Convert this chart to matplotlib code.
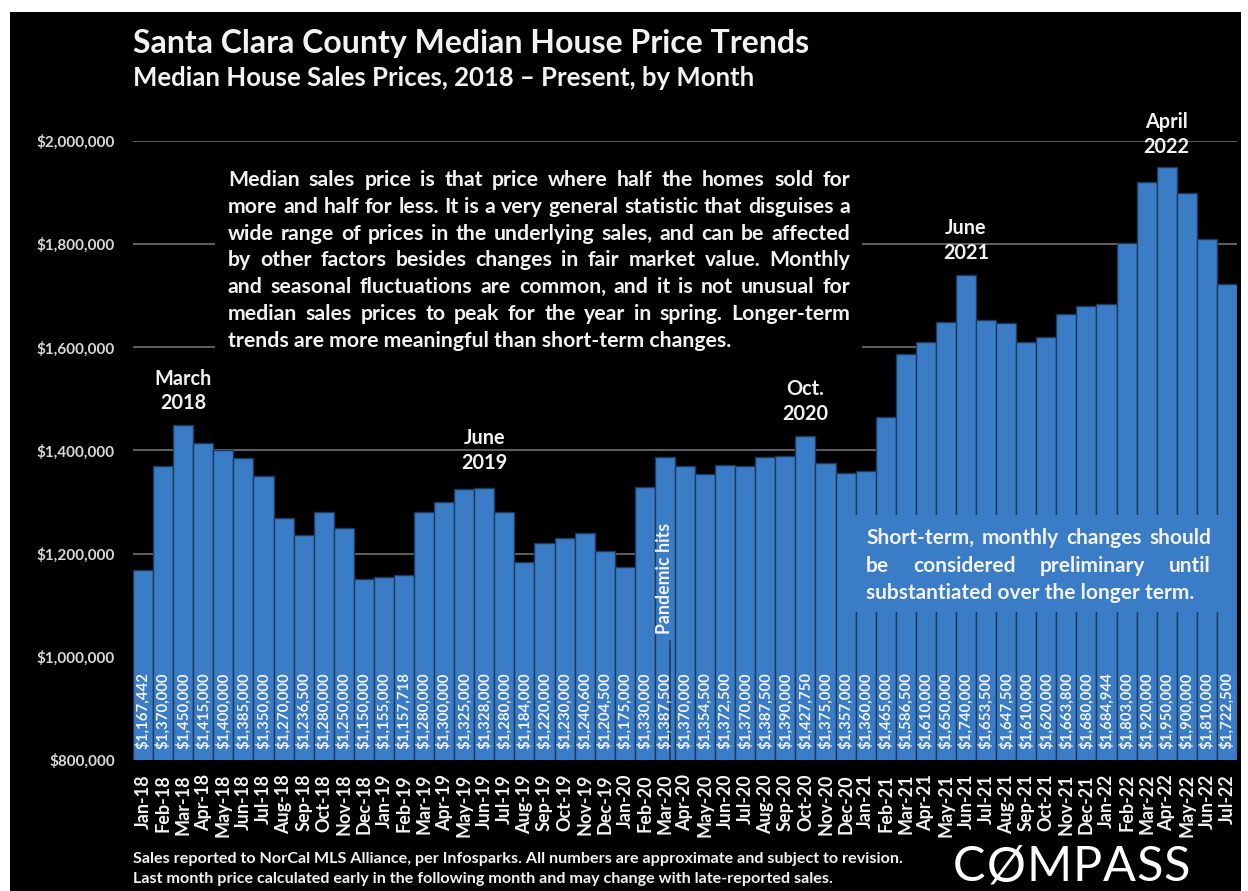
import matplotlib
matplotlib.use("Agg")
import matplotlib.pyplot as plt
from matplotlib.patches import Rectangle
import numpy as np

months = ["Jan-18","Feb-18","Mar-18","Apr-18","May-18","Jun-18","Jul-18","Aug-18","Sep-18","Oct-18","Nov-18","Dec-18",
          "Jan-19","Feb-19","Mar-19","Apr-19","May-19","Jun-19","Jul-19","Aug-19","Sep-19","Oct-19","Nov-19","Dec-19",
          "Jan-20","Feb-20","Mar-20","Apr-20","May-20","Jun-20","Jul-20","Aug-20","Sep-20","Oct-20","Nov-20","Dec-20",
          "Jan-21","Feb-21","Mar-21","Apr-21","May-21","Jun-21","Jul-21","Aug-21","Sep-21","Oct-21","Nov-21","Dec-21",
          "Jan-22","Feb-22","Mar-22","Apr-22","May-22","Jun-22","Jul-22"]
prices = [1167442,1370000,1450000,1415000,1400000,1385000,1350000,1270000,1236500,1280000,1250000,1150000,
          1155000,1157718,1280000,1300000,1325000,1328000,1280000,1184000,1220000,1230000,1240600,1204500,
          1175000,1330000,1387500,1370000,1354500,1372500,1370000,1387500,1390000,1427750,1375000,1357000,
          1360000,1465000,1586500,1610000,1650000,1740000,1653500,1647500,1610000,1620000,1663800,1680000,
          1684944,1803000,1920000,1950000,1900000,1810000,1722500]
yticks = [800000,1000000,1200000,1400000,1600000,1800000,2000000]
peak_labels = [("March\n2018", "Mar-18", 1472000), ("June\n2019", "Jun-19", 1356000),
               ("Oct.\n2020", "Oct-20", 1451000), ("June\n2021", "Jun-21", 1763000),
               ("April\n2022", "Apr-22", 1969000)]

W, H = 1248, 891
FONT = ["Lato", "DejaVu Sans"]
plt.rcParams['font.family'] = FONT
plt.rcParams['font.weight'] = 'bold'
BLUE = "#3a7cc6"
EDGE = "#1d3a5e"
WHITE = "#f2f2f2"

fig = plt.figure(figsize=(W/100, H/100), dpi=100, facecolor="white")
fig.patches.append(Rectangle((10/W, 0), (1241-10)/W, (H-12)/H, transform=fig.transFigure,
                             facecolor="black", edgecolor="none", zorder=-10))

ax = fig.add_axes([133/W, 1-760/H, 1104/W, (760-141)/H])
ax.patch.set_alpha(0)
x = np.arange(len(months))
ax.bar(x, prices, width=1.0, color=BLUE, edgecolor=EDGE, linewidth=1.0, zorder=2)
ax.set_xlim(-0.5, len(months)-0.5)
ax.set_ylim(800000, 2000000)
ax.set_yticks(yticks)
ax.set_yticklabels([f"${v:,.0f}" for v in yticks], fontsize=11, fontweight='bold', color="#d9d9d9")
ax.set_xticks(x)
ax.set_xticklabels(months, rotation=90, fontsize=13, fontweight='bold', color=WHITE)
ax.tick_params(axis='x', length=0, pad=10)
ax.tick_params(axis='y', length=0, pad=13)
for s in ax.spines.values():
    s.set_visible(False)
ax.yaxis.grid(True, color="#707070", linewidth=1.2, zorder=0)
ax.set_axisbelow(True)

# value labels inside bars
for xi, v in zip(x, prices):
    ax.text(xi, 822000, f"${v:,.0f}", rotation=90, ha='center', va='bottom',
            fontsize=10.8, fontweight='bold', color=WHITE, zorder=4)

# peak annotations
for lab, m, yv in peak_labels:
    ax.text(months.index(m), yv, lab, ha='center', va='bottom', fontsize=14.3,
            fontweight='bold', color=WHITE, linespacing=1.3, zorder=5, clip_on=False)

# pandemic marker
pi = months.index("Mar-20")
ax.plot([pi+0.25, pi+0.25], [800000, 1030000], color=EDGE, linewidth=1.2, zorder=3)
ax.text(pi, 1045000, "Pandemic hits", rotation=90, ha='center', va='bottom', fontsize=12.8,
        fontweight='bold', color=WHITE, zorder=5)

# titles
fig.text(133/W, 1-43/H, "Santa Clara County Median House Price Trends", fontsize=23,
         fontweight='bold', color=WHITE, va='center', ha='left')
fig.text(133/W, 1-78/H, "Median House Sales Prices, 2018 \u2013 Present, by Month", fontsize=18.5,
         fontweight='bold', color=WHITE, va='center', ha='left')

renderer = fig.canvas.get_renderer()

def spread(words, x0, x1, yf, **kw):
    ts = [fig.text(0, yf, w, ha='left', va='center', **kw) for w in words]
    ws = [t.get_window_extent(renderer).width for t in ts]
    gap = (x1 - x0 - sum(ws)) / (len(words)-1)
    xp = x0
    for t, w in zip(ts, ws):
        t.set_x(xp/W)
        xp += w + gap

def justified(lines, x0, x1, y0, dy, fs, color):
    for i, line in enumerate(lines):
        yf = 1 - (y0 + i*dy)/H
        if i == len(lines)-1:
            fig.text(x0/W, yf, line, fontsize=fs, fontweight='bold', color=color,
                     ha='left', va='center', zorder=12)
            continue
        spread(line.split(), x0, x1, yf, fontsize=fs, fontweight='bold', color=color, zorder=12)

note_lines = ["Median sales price is that price where half the homes sold for",
              "more and half for less. It is a very general statistic that disguises a",
              "wide range of prices in the underlying sales, and can be affected",
              "by other factors besides changes in fair market value. Monthly",
              "and seasonal fluctuations are common, and it is not unusual for",
              "median sales prices to peak for the year in spring. Longer-term",
              "trends are more meaningful than short-term changes."]
fig.patches.append(Rectangle((215/W, 1-356/H), (862-215)/W, (356-160)/H, transform=fig.transFigure,
                             facecolor="black", edgecolor="none", zorder=10))
justified(note_lines, 228, 850, 180, 26.8, 15.3, WHITE)

short_lines = ["Short-term, monthly changes should",
               "be considered preliminary until",
               "substantiated over the longer term."]
fig.patches.append(Rectangle((852/W, 1-612/H), (1222-852)/W, (612-515)/H, transform=fig.transFigure,
                             facecolor=BLUE, edgecolor="none", zorder=10))
justified(short_lines, 866, 1211, 538, 27.5, 15, WHITE)

# footer
fig.text(133/W, 1-859/H, "Sales reported to NorCal MLS Alliance, per Infosparks. All numbers are approximate and subject to revision.",
         fontsize=11.6, fontweight='bold', color=WHITE, va='center', ha='left')
fig.text(133/W, 1-879/H, "Last month price calculated early in the following month and may change with late-reported sales.",
         fontsize=11.6, fontweight='bold', color=WHITE, va='center', ha='left')
spread(list("C\u00d8MPASS"), 953, 1190, 1-867/H, fontsize=35, fontweight='normal',
       color="white", family=["Lato", "DejaVu Sans"])

fig.savefig("out.png", dpi=100, facecolor="white")
